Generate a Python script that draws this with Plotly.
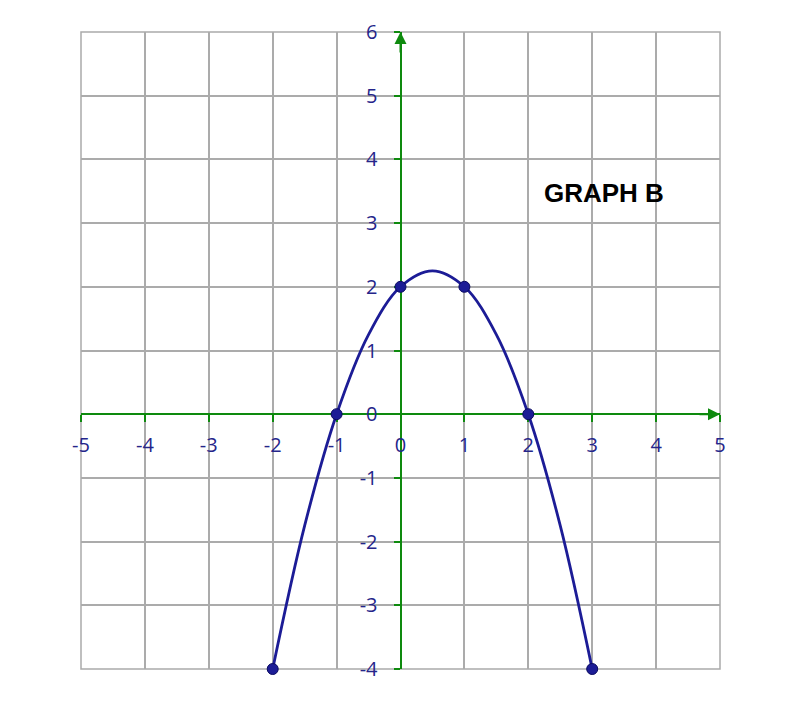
import plotly.graph_objects as go

# marked points of the parabola
x_pts = [-2, -1, 0, 1, 2, 3]
y_pts = [-4, 0, 2, 2, 0, -4]
# curve (includes the vertex and half-unit readings)
x_curve = [-2, -1.5, -1, -0.5, 0, 0.5, 1, 1.5, 2, 2.5, 3]
y_curve = [-4, -1.75, 0, 1.25, 2, 2.25, 2, 1.25, 0, -1.75, -4]
x_ticks = [-5, -4, -3, -2, -1, 0, 1, 2, 3, 4, 5]
y_ticks = [-4, -3, -2, -1, 0, 1, 2, 3, 4, 5, 6]
title_text = "GRAPH B"

NAVY = "#1c1c96"
LABEL = "#25258a"
GREEN = "#0e8a0e"
GRID = "#ababab"

fig = go.Figure()
fig.add_trace(go.Scatter(
    x=x_curve, y=y_curve, mode="lines",
    line=dict(color=NAVY, width=2.8, shape="spline", smoothing=1),
    cliponaxis=False, showlegend=False, hoverinfo="skip"))
fig.add_trace(go.Scatter(
    x=x_pts, y=y_pts, mode="markers",
    marker=dict(size=11, color=NAVY, line=dict(color="#0a0a60", width=1)),
    cliponaxis=False, showlegend=False, hoverinfo="skip"))

axis_font = dict(family="Open Sans, Noto Sans, sans-serif", size=20, color=LABEL)

fig.update_layout(
    width=800, height=703,
    margin=dict(l=73, r=88, t=24, b=42),
    paper_bgcolor="white", plot_bgcolor="white",
    xaxis=dict(range=[-5, 5], tickvals=x_ticks, ticktext=[str(v) for v in x_ticks],
               showgrid=True, gridcolor=GRID, gridwidth=1.5, zeroline=False,
               showline=True, linecolor=GREEN, linewidth=2,
               ticks="outside", ticklen=7, tickwidth=2, tickcolor=GREEN,
               anchor="free", position=0.4, tickfont=axis_font, automargin=False,
               ticklabelstandoff=6, layer="below traces", fixedrange=True),
    yaxis=dict(range=[-4, 6], tickvals=y_ticks, ticktext=[str(v) for v in y_ticks],
               showgrid=True, gridcolor=GRID, gridwidth=1.5, zeroline=False,
               showline=True, linecolor=GREEN, linewidth=2,
               ticks="outside", ticklen=6, tickwidth=2, tickcolor=GREEN,
               anchor="free", position=0.5, tickfont=axis_font, automargin=False,
               ticklabelstandoff=12, layer="below traces", fixedrange=True),
)

# frame (outer grid lines)
fig.add_shape(type="rect", xref="paper", yref="paper", x0=0, y0=0, x1=1, y1=1,
              line=dict(color=GRID, width=1.5), layer="below")

# arrowheads on the axes
fig.add_annotation(x=0, y=6, xref="x", yref="y", ax=0, ay=22, text="",
                   showarrow=True, arrowhead=2, arrowsize=1.2, arrowwidth=2, arrowcolor=GREEN)
fig.add_annotation(x=5, y=0, xref="x", yref="y", ax=-22, ay=0, text="",
                   showarrow=True, arrowhead=2, arrowsize=1.2, arrowwidth=2, arrowcolor=GREEN)

fig.add_annotation(x=3.19, y=3.48, xref="x", yref="y", text="<b>" + title_text + "</b>",
                   showarrow=False, font=dict(family="Liberation Sans, Arial, sans-serif", size=26, color="black"))

fig.write_html("out.html")
